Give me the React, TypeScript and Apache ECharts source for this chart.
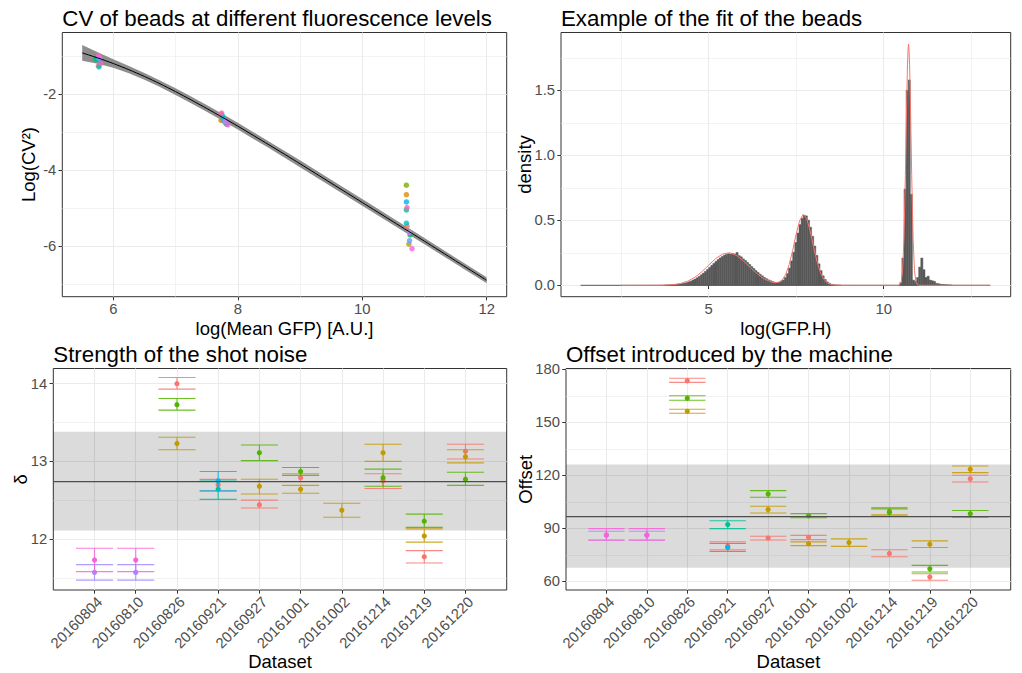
import React, { useEffect, useRef } from 'react';
import * as echarts from 'echarts';

const FONT = '"Liberation Sans", Arial, Helvetica, sans-serif';
const TICK_COLOR = '#333333';
const LABEL_COLOR = '#4D4D4D';
const GRID_COLOR = '#EBEBEB';

// ---------- Panel 1: CV of beads ----------
const cvFitX = [5.5, 5.75, 6, 6.25, 6.5, 6.75, 7, 7.25, 7.5, 7.75, 8, 8.5, 9, 9.5, 10, 10.5, 11, 11.5, 12];
const cvFitY = [-0.905, -1.038, -1.185, -1.348, -1.525, -1.718, -1.925, -2.143, -2.367, -2.598, -2.834, -3.324, -3.824, -4.334, -4.844, -5.354, -5.864, -6.379, -6.894];
const cvBandLow = [-1.115, -1.188, -1.295, -1.443, -1.615, -1.806, -2.013, -2.231, -2.455, -2.686, -2.922, -3.412, -3.914, -4.424, -4.932, -5.439, -5.946, -6.459, -6.972];
const cvBandHigh = [-0.695, -0.888, -1.075, -1.253, -1.435, -1.63, -1.837, -2.055, -2.279, -2.51, -2.746, -3.236, -3.734, -4.244, -4.756, -5.269, -5.782, -6.299, -6.816];

const cvColors = ['#F8766D', '#DE8C00', '#B79F00', '#7CAE00', '#00BA38', '#00C08B', '#00BFC4', '#00B4F0', '#619CFF', '#C77CFF', '#F564E3', '#FF64B0'];
const beadMeanA = [5.76, 5.77, 5.76, 5.74, 5.72, 5.73, 5.77, 5.78, 5.77, 5.78, 5.76, 5.8];
const beadCvA = [-1.25, -1.0, -1.02, -0.99, -1.06, -1.08, -1.27, -1.12, -1.05, -1.03, -0.98, -1.18];
const beadMeanB = [7.74, 7.73, 7.76, 7.78, 7.82, 7.8, 7.75, 7.76, 7.79, 7.8, 7.84, 7.73];
const beadCvB = [-2.49, -2.68, -2.66, -2.7, -2.78, -2.74, -2.55, -2.62, -2.7, -2.72, -2.8, -2.52];
const beadMeanC = [10.72, 10.71, 10.75, 10.71, 10.77, 10.71, 10.71, 10.71, 10.76, 10.76, 10.8, 10.72];
const beadCvC = [-5.47, -4.64, -5.94, -4.39, -5.7, -5.04, -5.39, -4.83, -5.85, -5.64, -6.06, -4.98];

// ---------- Panel 2: histogram + fit ----------
const HIST_START = 1.34;
const HIST_BIN = 0.06;
const histDensity = [
  0, 0, 0, 0, 0, 0, 0, 0, 0, 0,
  0, 0, 0, 0, 0, 0, 0, 0, 0, 0,
  0, 0, 0, 0, 0, 0, 0, 0, 0, 0,
  0, 0, 0, 0, 0, 0, 0, 0, 0, 0,
  0.001, 0.002, 0.002, 0.003, 0.004, 0.006, 0.007, 0.01, 0.013, 0.016,
  0.02, 0.026, 0.032, 0.04, 0.048, 0.058, 0.068, 0.081, 0.094, 0.108,
  0.123, 0.138, 0.154, 0.169, 0.184, 0.198, 0.211, 0.222, 0.232, 0.238,
  0.243, 0.24, 0.244, 0.241, 0.252, 0.228, 0.219, 0.203, 0.191, 0.176,
  0.161, 0.144, 0.129, 0.113, 0.099, 0.085, 0.073, 0.061, 0.051, 0.042,
  0.035, 0.028, 0.023, 0.022, 0.023, 0.029, 0.04, 0.06, 0.09, 0.133,
  0.188, 0.255, 0.329, 0.402, 0.467, 0.515, 0.538, 0.534, 0.501, 0.447,
  0.377, 0.302, 0.23, 0.165, 0.113, 0.073, 0.045, 0.026, 0.015, 0.008,
  0.004, 0.002, 0.001, 0.0005,
  0, 0, 0, 0, 0, 0, 0, 0, 0, 0,
  0, 0, 0, 0, 0, 0, 0, 0, 0, 0,
  0, 0, 0, 0, 0, 0, 0, 0,
  0.02, 0.21, 0.74, 1.5, 1.58, 0.7, 0.04, 0.03, 0.06, 0.14,
  0.21, 0.12, 0.06, 0.07, 0.04, 0.035, 0.03, 0.015, 0.012, 0.008,
  0.006, 0.005, 0.004, 0.003, 0.002,
  0, 0, 0, 0, 0, 0, 0, 0, 0, 0,
  0, 0, 0, 0, 0, 0, 0, 0,
];
const fitX = [2.5, 3.0, 3.4, 3.6, 3.8, 4.0, 4.2, 4.4, 4.6, 4.8, 5.0, 5.2, 5.4, 5.6, 5.8, 6.0, 6.2, 6.4, 6.6, 6.8,
  6.9, 7.0, 7.1, 7.2, 7.3, 7.4, 7.5, 7.6, 7.7, 7.8, 7.9, 8.0, 8.1, 8.2, 8.3, 8.4, 8.5, 8.6, 8.8, 9.0,
  10.4, 10.45, 10.5, 10.54, 10.58, 10.62, 10.64, 10.66, 10.68, 10.7, 10.71, 10.72, 10.74, 10.76, 10.78, 10.8,
  10.84, 10.88, 10.92, 10.97, 11.0, 13.05];
const fitY = [0, 0, 0.0003, 0.0007, 0.0021, 0.0059, 0.0146, 0.0317, 0.0609, 0.103, 0.155, 0.206, 0.241, 0.25, 0.23, 0.186, 0.134, 0.085, 0.0475, 0.0248,
  0.0201, 0.0234, 0.0413, 0.0837, 0.16, 0.269, 0.395, 0.499, 0.546, 0.514, 0.418, 0.293, 0.177, 0.092, 0.042, 0.016, 0.0054, 0.0016, 0.0001, 0,
  0, 0.003, 0.026, 0.114, 0.363, 0.847, 1.153, 1.454, 1.696, 1.832, 1.856, 1.832, 1.696, 1.454, 1.153, 0.847,
  0.363, 0.114, 0.026, 0.003, 0, 0];

// ---------- Panels 3 & 4 ----------
const datasets = ['20160804', '20160810', '20160826', '20160921', '20160927', '20161001', '20161002', '20161214', '20161219', '20161220'];
const groupColors = ['#F8766D', '#C49A00', '#53B400', '#00C094', '#00B6EB', '#A58AFF', '#FB61D7'];

// rows: [dataset position, estimate, lower, upper]
const deltaRed = [[3, 14.0, 13.93, 14.08], [4, 12.7, 12.62, 12.77], [5, 12.44, 12.4, 12.5], [6, 12.79, 12.74, 12.84], [8, 12.75, 12.65, 12.84], [9, 11.77, 11.69, 11.85], [10, 13.13, 13.03, 13.22]];
const deltaGold = [[3, 13.23, 13.15, 13.31], [5, 12.68, 12.58, 12.77], [6, 12.64, 12.59, 12.69], [7, 12.37, 12.28, 12.46], [8, 13.11, 13.0, 13.22], [9, 12.04, 11.96, 12.13], [10, 13.06, 12.98, 13.15]];
const deltaGreen = [[3, 13.73, 13.66, 13.81], [5, 13.11, 13.01, 13.21], [6, 12.87, 12.82, 12.92], [8, 12.79, 12.68, 12.9], [9, 12.23, 12.15, 12.32], [10, 12.77, 12.69, 12.86]];
const deltaTeal = [[4, 12.64, 12.51, 12.76]];
const deltaBlue = [[4, 12.75, 12.62, 12.87]];
const deltaPurple = [[1, 11.57, 11.47, 11.67], [2, 11.57, 11.47, 11.67]];
const deltaPink = [[1, 11.73, 11.58, 11.88], [2, 11.73, 11.58, 11.88]];
const deltaMean = 12.74;
const deltaBandLow = 12.11;
const deltaBandHigh = 13.38;

const offsetRed = [[3, 173.5, 172.6, 174.9], [4, 80.0, 77.8, 82.3], [5, 84.5, 83.4, 85.5], [6, 84.9, 83.6, 86.0], [8, 75.8, 73.9, 77.9], [9, 62.4, 60.6, 64.3], [10, 118.1, 116.2, 120.0]];
const offsetGold = [[3, 156.2, 155.1, 157.4], [5, 100.6, 98.7, 102.5], [6, 81.3, 80.2, 82.3], [7, 81.9, 79.8, 84.0], [8, 99.6, 97.6, 101.7], [9, 81.0, 79.1, 82.9], [10, 123.4, 121.5, 125.3]];
const offsetGreen = [[3, 163.6, 162.5, 165.0], [5, 109.4, 107.6, 111.3], [6, 97.1, 96.0, 98.3], [8, 99.0, 96.8, 101.0], [9, 67.1, 65.3, 69.0], [10, 98.2, 96.3, 100.1]];
const offsetTeal = [[4, 92.1, 89.8, 94.3]];
const offsetBlue = [[4, 79.2, 76.9, 81.4]];
const offsetPurple = [[1, 86.0, 83.4, 88.3], [2, 86.0, 83.4, 88.3]];
const offsetPink = [[1, 86.2, 83.2, 89.8], [2, 86.2, 83.2, 89.8]];
const offsetMean = 96.6;
const offsetBandLow = 67.7;
const offsetBandHigh = 126.1;

const ERR_CAP_WIDTH = 0.9;

function valueAxis(gridIndex: number, min: number, max: number, major: number[], label: any = {}) {
  return {
    type: 'value', gridIndex, min, max,
    axisLine: { show: false },
    axisTick: { show: true, customValues: major, length: 3.7, lineStyle: { color: TICK_COLOR, width: 1 } },
    axisLabel: { show: true, customValues: major, color: LABEL_COLOR, fontSize: 14.8, fontFamily: FONT, margin: 5, ...label },
    splitLine: { show: true, lineStyle: { color: GRID_COLOR, width: 1.1 } },
    minorTick: { show: false },
    minorSplitLine: { show: false },
  };
}
function minorAxis(gridIndex: number, min: number, max: number, minor: number[], position: string) {
  return {
    type: 'value', gridIndex, min, max, position,
    axisLine: { show: false },
    axisTick: { show: false, customValues: minor },
    axisLabel: { show: false },
    splitLine: { show: true, lineStyle: { color: GRID_COLOR, width: 0.6 } },
  };
}

function errorBarSeries(rows: number[][], color: string, xi: number, yi: number) {
  return {
    type: 'custom', xAxisIndex: xi, yAxisIndex: yi, data: rows, silent: true,
    encode: { x: 0, y: [1, 2, 3] },
    renderItem: (params: any, api: any) => {
      const x = api.value(0);
      const top = api.coord([x, api.value(3)]);
      const bot = api.coord([x, api.value(2)]);
      const mid = api.coord([x, api.value(1)]);
      const half = api.size([ERR_CAP_WIDTH, 0])[0] / 2;
      const ls = { stroke: color, lineWidth: 1.1, opacity: 0.85 };
      return {
        type: 'group',
        children: [
          { type: 'line', shape: { x1: top[0], y1: top[1], x2: bot[0], y2: bot[1] }, style: ls },
          { type: 'line', shape: { x1: top[0] - half, y1: top[1], x2: top[0] + half, y2: top[1] }, style: ls },
          { type: 'line', shape: { x1: bot[0] - half, y1: bot[1], x2: bot[0] + half, y2: bot[1] }, style: ls },
          { type: 'circle', shape: { cx: mid[0], cy: mid[1], r: 2.6 }, style: { fill: color } },
        ],
      };
    },
  };
}

function bandSeries(lo: number, hi: number, xi: number, yi: number) {
  return {
    type: 'custom', xAxisIndex: xi, yAxisIndex: yi, data: [[1, lo, hi]], silent: true,
    encode: { x: 0, y: [1, 2] },
    renderItem: (params: any, api: any) => {
      const cs = params.coordSys;
      const yHi = api.coord([1, api.value(2)])[1];
      const yLo = api.coord([1, api.value(1)])[1];
      return { type: 'rect', shape: { x: cs.x, y: yHi, width: cs.width, height: yLo - yHi }, style: { fill: 'rgba(0,0,0,0.14)' } };
    },
  };
}

function meanLineSeries(mean: number, xi: number, yi: number) {
  return {
    type: 'custom', xAxisIndex: xi, yAxisIndex: yi, data: [[1, mean]], silent: true,
    encode: { x: 0, y: 1 },
    renderItem: (params: any, api: any) => {
      const cs = params.coordSys;
      const y = api.coord([1, api.value(1)])[1];
      return { type: 'line', shape: { x1: cs.x, y1: y, x2: cs.x + cs.width, y2: y }, style: { stroke: '#4D4D4D', lineWidth: 1.3 } };
    },
  };
}

function txt(text: string, x: number, y: number, size: number, align = 'center', rot = 0) {
  return {
    type: 'text', x, y, rotation: rot, silent: true,
    style: { text, fontSize: size, fontFamily: FONT, fill: '#000000', align, verticalAlign: 'middle' },
  };
}

export default function App() {
  const ref = useRef<HTMLDivElement>(null);
  useEffect(() => {
    if (!ref.current) return;
    const chart = echarts.init(ref.current, undefined, { renderer: 'svg' });

    const beadPoints: any[] = [];
    [[beadMeanA, beadCvA], [beadMeanB, beadCvB], [beadMeanC, beadCvC]].forEach(([mx, cy]) => {
      mx.forEach((x, i) => beadPoints.push({ value: [x, cy[i]], itemStyle: { color: cvColors[i] } }));
    });

    const histData = histDensity
      .map((h, i) => [HIST_START + i * HIST_BIN, HIST_START + (i + 1) * HIST_BIN, h])
      .filter((d) => d[2] > 0);
    const histEnd = HIST_START + histDensity.length * HIST_BIN;

    const dsLabel = { rotate: 45, align: 'right', verticalAlign: 'top', margin: 4, formatter: (v: number) => datasets[Math.round(v) - 1] || '' };
    const cats = datasets.map((_, i) => i + 1);

    const deltaGroups = [deltaRed, deltaGold, deltaGreen, deltaTeal, deltaBlue, deltaPurple, deltaPink];
    const offsetGroups = [offsetRed, offsetGold, offsetGreen, offsetTeal, offsetBlue, offsetPurple, offsetPink];

    const gridBase = { show: true, borderColor: '#333333', borderWidth: 1, backgroundColor: '#fff', containLabel: false, outerBoundsMode: 'none' };

    const option: any = {
      animation: false,
      textStyle: { fontFamily: FONT },
      grid: [
        { left: 62.3, top: 32.5, width: 444.4, height: 264.2, ...gridBase },
        { left: 561, top: 32.5, width: 449.7, height: 264.2, ...gridBase },
        { left: 53.3, top: 368.5, width: 453.4, height: 221.5, ...gridBase },
        { left: 566, top: 368.5, width: 444.7, height: 221.5, ...gridBase },
      ],
      xAxis: [
        valueAxis(0, 5.18, 12.322, [6, 8, 10, 12]),
        minorAxis(0, 5.18, 12.322, [7, 9, 11], 'top'),
        valueAxis(1, 0.78, 13.629, [5, 10]),
        minorAxis(1, 0.78, 13.629, [2.5, 7.5, 12.5], 'top'),
        valueAxis(2, 0, 11, cats, dsLabel),
        valueAxis(3, 0, 11, cats, dsLabel),
      ],
      yAxis: [
        valueAxis(0, -7.326, -0.368, [-6, -4, -2], { margin: 6 }),
        minorAxis(0, -7.326, -0.368, [-7, -5, -3, -1], 'right'),
        valueAxis(1, -0.0877, 1.945, [0, 0.5, 1, 1.5], { margin: 6, formatter: (v: number) => v.toFixed(1) }),
        minorAxis(1, -0.0877, 1.945, [0.25, 0.75, 1.25, 1.75], 'right'),
        valueAxis(2, 11.343, 14.196, [12, 13, 14], { margin: 6 }),
        minorAxis(2, 11.343, 14.196, [11.5, 12.5, 13.5], 'right'),
        valueAxis(3, 55.08, 180.45, [60, 90, 120, 150, 180], { margin: 6 }),
        minorAxis(3, 55.08, 180.45, [75, 105, 135, 165], 'right'),
      ],
      series: [
        {
          type: 'custom', xAxisIndex: 0, yAxisIndex: 0, silent: true,
          data: [[cvFitX[0], cvFitY[0]]],
          renderItem: (params: any, api: any) => {
            if (params.dataIndex !== 0) return null;
            const pts: number[][] = [];
            cvFitX.forEach((x, i) => pts.push(api.coord([x, cvBandHigh[i]])));
            for (let i = cvFitX.length - 1; i >= 0; i--) pts.push(api.coord([cvFitX[i], cvBandLow[i]]));
            return { type: 'polygon', shape: { points: pts }, style: { fill: '#8e8e8e' } };
          },
        },
        {
          type: 'line', xAxisIndex: 0, yAxisIndex: 0, silent: true, symbol: 'none', smooth: 0.25,
          data: cvFitX.map((x, i) => [x, cvFitY[i]]),
          lineStyle: { color: '#000000', width: 1 },
        },
        {
          type: 'scatter', xAxisIndex: 0, yAxisIndex: 0, silent: true, symbolSize: 5.5,
          data: beadPoints,
        },
        {
          type: 'custom', xAxisIndex: 2, yAxisIndex: 2, silent: true,
          data: histData, encode: { x: [0, 1], y: 2 },
          renderItem: (params: any, api: any) => {
            const p0 = api.coord([api.value(0), api.value(2)]);
            const p1 = api.coord([api.value(1), 0]);
            return { type: 'rect', shape: { x: p0[0], y: p0[1], width: p1[0] - p0[0], height: p1[1] - p0[1] }, style: { fill: '#595959', stroke: '#595959', lineWidth: 0.5 } };
          },
        },
        {
          type: 'line', xAxisIndex: 2, yAxisIndex: 2, silent: true, symbol: 'none',
          data: [[HIST_START, 0], [histEnd, 0]],
          lineStyle: { color: '#595959', width: 1 },
        },
        {
          type: 'line', xAxisIndex: 2, yAxisIndex: 2, silent: true, symbol: 'none',
          data: fitX.map((x, i) => [x, fitY[i]]),
          lineStyle: { color: '#F8766D', width: 1 },
        },
        bandSeries(deltaBandLow, deltaBandHigh, 4, 4),
        ...deltaGroups.map((g, i) => errorBarSeries(g, groupColors[i], 4, 4)),
        meanLineSeries(deltaMean, 4, 4),
        bandSeries(offsetBandLow, offsetBandHigh, 5, 6),
        ...offsetGroups.map((g, i) => errorBarSeries(g, groupColors[i], 5, 6)),
        meanLineSeries(offsetMean, 5, 6),
      ],
      graphic: [
        txt('CV of beads at different fluorescence levels', 62.3, 18.4, 22.3, 'left'),
        txt('Example of the fit of the beads', 561, 18.4, 22.3, 'left'),
        txt('Strength of the shot noise', 53.3, 354.4, 22.3, 'left'),
        txt('Offset introduced by the machine', 566, 354.4, 22.3, 'left'),
        txt('log(Mean GFP) [A.U.]', 284.5, 328, 18.5),
        txt('log(GFP.H)', 785.9, 328, 18.5),
        txt('Dataset', 280, 661, 18.5),
        txt('Dataset', 788.4, 661, 18.5),
        txt('Log(CV²)', 28.6, 164.5, 18.5, 'center', Math.PI / 2),
        txt('density', 524.6, 164.5, 18.5, 'center', Math.PI / 2),
        txt('δ', 20.3, 479.3, 18.5, 'center', Math.PI / 2),
        txt('Offset', 525.3, 479.3, 18.5, 'center', Math.PI / 2),
      ],
    };
    chart.setOption(option);
    return () => chart.dispose();
  }, []);
  return <div ref={ref} style={{ position: 'fixed', left: 0, top: 0, width: 1022, height: 673, background: '#fff' }} />;
}
